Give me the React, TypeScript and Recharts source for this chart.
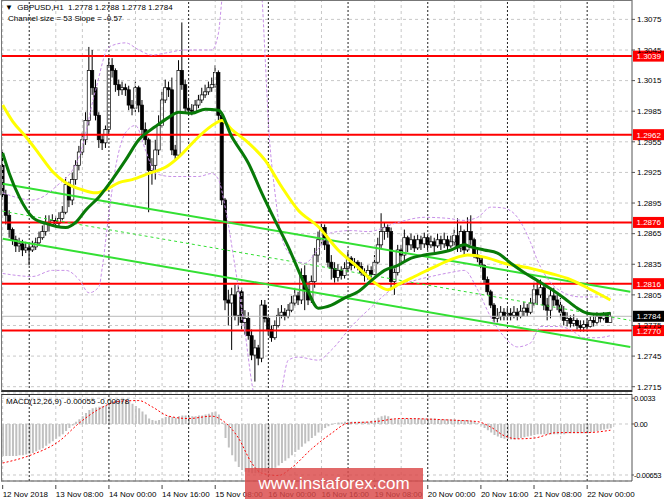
import React from 'react';
import { ComposedChart, Bar, Line, XAxis, YAxis, CartesianGrid, ReferenceLine } from 'recharts';

// ---------- DATA ----------
const firstOpen = 1.2932;
const closes = [
  1.2903, 1.2883, 1.2869, 1.2859, 1.2853, 1.2855, 1.2849, 1.2851, 1.2849, 1.2852,
  1.2856, 1.2861, 1.2867, 1.2876, 1.2874, 1.2878, 1.2875, 1.2880, 1.2886, 1.2913,
  1.2898, 1.2918, 1.2932, 1.2945, 1.2957, 1.2976, 1.3025, 1.3008, 1.2981, 1.2957,
  1.2954, 1.2967, 1.3030, 1.3025, 1.3011, 1.3006, 1.3008, 1.3006, 1.2991, 1.2988,
  1.3008, 1.2991, 1.2967, 1.2957, 1.2927, 1.2932, 1.2947, 1.2971, 1.2996, 1.3008,
  1.3006, 1.2947, 1.2942, 1.3025, 1.3011, 1.2988, 1.2986, 1.2985, 1.2991, 1.2996,
  1.3001, 1.3004, 1.3008, 1.3011, 1.3023, 1.2981, 1.2898, 1.2800, 1.2797, 1.2805,
  1.2785, 1.2808, 1.2778, 1.2782, 1.2765, 1.2746, 1.2753, 1.2743, 1.2795, 1.2782,
  1.2771, 1.2763, 1.2775, 1.2785, 1.2788, 1.2784, 1.2790, 1.2797, 1.2804, 1.2800,
  1.2824, 1.2810, 1.2800, 1.2818, 1.2844, 1.2859, 1.2871, 1.2854, 1.2837, 1.2831,
  1.2822, 1.2829, 1.2824, 1.2831, 1.2841, 1.2834, 1.2837, 1.2833, 1.2827, 1.2824,
  1.2829, 1.2825, 1.2837, 1.2854, 1.2867, 1.2871, 1.2867, 1.2818, 1.2827, 1.2849,
  1.2844, 1.2861, 1.2854, 1.2859, 1.2851, 1.2859, 1.2855, 1.2861, 1.2854, 1.2857,
  1.2853, 1.2859, 1.2855, 1.2859, 1.2853, 1.2857, 1.2863, 1.2851, 1.2867, 1.2849,
  1.2867, 1.2859, 1.2844, 1.2841, 1.2834, 1.2820, 1.2808, 1.2795, 1.2782, 1.2784,
  1.2788, 1.2784, 1.2787, 1.2785, 1.2788, 1.2784, 1.2789, 1.2792, 1.2788, 1.2797,
  1.2810, 1.2805, 1.2812, 1.2795, 1.2790, 1.2804, 1.2800, 1.2795, 1.2788, 1.2780,
  1.2782, 1.2777, 1.2780, 1.2775, 1.2773, 1.2776, 1.2774, 1.2780, 1.2778, 1.2784,
  1.2782, 1.2785, 1.2778, 1.2784,
];
const highs = [
  1.2947, 1.2908, 1.2888, 1.2871, 1.2863, 1.2861, 1.2859, 1.2857, 1.2855, 1.2858,
  1.2861, 1.2867, 1.2873, 1.2883, 1.2883, 1.2884, 1.2882, 1.2886, 1.2892, 1.2920,
  1.2916, 1.2925, 1.2937, 1.2951, 1.2964, 1.2984, 1.3048, 1.3045, 1.3016, 1.2984,
  1.2962, 1.2971, 1.3037, 1.3037, 1.3027, 1.3016, 1.3014, 1.3012, 1.3010, 1.2996,
  1.3014, 1.3010, 1.2996, 1.2974, 1.2959, 1.2939, 1.2957, 1.2981, 1.3004, 1.3016,
  1.3014, 1.3018, 1.2952, 1.3035, 1.3072, 1.3016, 1.2996, 1.2992, 1.2996, 1.3001,
  1.3008, 1.3011, 1.3014, 1.3018, 1.3030, 1.3025, 1.2984, 1.2900, 1.2810, 1.2812,
  1.2815, 1.2814, 1.2812, 1.2790, 1.2788, 1.2771, 1.2761, 1.2756, 1.2800, 1.2800,
  1.2785, 1.2775, 1.2780, 1.2792, 1.2795, 1.2792, 1.2796, 1.2804, 1.2810, 1.2808,
  1.2831, 1.2834, 1.2818, 1.2824, 1.2851, 1.2867, 1.2876, 1.2874, 1.2859, 1.2844,
  1.2837, 1.2835, 1.2833, 1.2837, 1.2847, 1.2843, 1.2841, 1.2839, 1.2837, 1.2831,
  1.2834, 1.2833, 1.2844, 1.2861, 1.2885, 1.2876, 1.2874, 1.2871, 1.2831, 1.2854,
  1.2854, 1.2869, 1.2863, 1.2865, 1.2863, 1.2864, 1.2863, 1.2866, 1.2863, 1.2863,
  1.2861, 1.2865, 1.2863, 1.2866, 1.2863, 1.2863, 1.2869, 1.2880, 1.2873, 1.2869,
  1.2881, 1.2883, 1.2861, 1.2849, 1.2844, 1.2835, 1.2823, 1.2810, 1.2797, 1.2792,
  1.2794, 1.2792, 1.2792, 1.2792, 1.2794, 1.2792, 1.2795, 1.2798, 1.2796, 1.2802,
  1.2816, 1.2820, 1.2820, 1.2814, 1.2802, 1.2810, 1.2812, 1.2805, 1.2802, 1.2794,
  1.2788, 1.2785, 1.2786, 1.2782, 1.2780, 1.2780, 1.2782, 1.2784, 1.2785, 1.2788,
  1.2787, 1.2788, 1.2787, 1.2788,
];
const lows = [
  1.2898, 1.2874, 1.2861, 1.2854, 1.2847, 1.2847, 1.2843, 1.2846, 1.2834, 1.2847,
  1.2849, 1.2853, 1.2859, 1.2863, 1.2867, 1.2872, 1.2871, 1.2871, 1.2878, 1.2884,
  1.2891, 1.2893, 1.2913, 1.2927, 1.2942, 1.2952, 1.2971, 1.3001, 1.2976, 1.2949,
  1.2947, 1.2949, 1.2962, 1.3018, 1.3004, 1.3000, 1.3001, 1.3000, 1.2986, 1.2981,
  1.2984, 1.2984, 1.2962, 1.2952, 1.2886, 1.2913, 1.2918, 1.2942, 1.2969, 1.2993,
  1.2999, 1.2942, 1.2937, 1.2939, 1.3006, 1.2984, 1.2981, 1.2981, 1.2983, 1.2988,
  1.2993, 1.2998, 1.3001, 1.3004, 1.3008, 1.2976, 1.2893, 1.2790, 1.2775, 1.2751,
  1.2780, 1.2775, 1.2771, 1.2766, 1.2761, 1.2741, 1.2720, 1.2736, 1.2739, 1.2778,
  1.2766, 1.2759, 1.2761, 1.2773, 1.2782, 1.2780, 1.2782, 1.2788, 1.2794, 1.2795,
  1.2796, 1.2790, 1.2795, 1.2797, 1.2812, 1.2837, 1.2854, 1.2849, 1.2832, 1.2820,
  1.2817, 1.2818, 1.2820, 1.2821, 1.2827, 1.2829, 1.2831, 1.2829, 1.2824, 1.2818,
  1.2820, 1.2822, 1.2822, 1.2835, 1.2851, 1.2859, 1.2861, 1.2810, 1.2805, 1.2824,
  1.2837, 1.2837, 1.2847, 1.2849, 1.2847, 1.2849, 1.2849, 1.2851, 1.2849, 1.2851,
  1.2847, 1.2851, 1.2849, 1.2851, 1.2849, 1.2851, 1.2853, 1.2847, 1.2847, 1.2843,
  1.2847, 1.2854, 1.2841, 1.2837, 1.2831, 1.2816, 1.2805, 1.2792, 1.2778, 1.2778,
  1.2780, 1.2780, 1.2780, 1.2780, 1.2782, 1.2780, 1.2782, 1.2784, 1.2784, 1.2786,
  1.2794, 1.2795, 1.2802, 1.2790, 1.2780, 1.2782, 1.2794, 1.2790, 1.2782, 1.2775,
  1.2774, 1.2773, 1.2774, 1.2771, 1.2769, 1.2769, 1.2771, 1.2773, 1.2774, 1.2776,
  1.2778, 1.2780, 1.2778, 1.2778,
];
const futureSlots = 6;

const greenMaPts: [number, number][] = [
  [0, 1.2944], [2, 1.2924], [5, 1.2901], [9, 1.2881], [13, 1.2875], [19, 1.2871], [22, 1.2876],
  [25, 1.2888], [29, 1.2901], [33, 1.2918], [37, 1.2937], [41, 1.2957], [46, 1.2970], [50, 1.2979],
  [53, 1.2984], [57, 1.2983], [61, 1.2987], [65, 1.2986], [69, 1.2960], [74, 1.2934], [78, 1.2905],
  [82, 1.2878], [86, 1.2852], [90, 1.2822], [92, 1.2808], [95, 1.2792], [99, 1.2795], [103, 1.2802],
  [107, 1.2808], [111, 1.2819], [115, 1.2829], [119, 1.2834], [123, 1.2841], [127, 1.2844],
  [131, 1.2846], [135, 1.2849], [139, 1.2854], [141, 1.2852], [145, 1.2849], [149, 1.2846],
  [153, 1.2836], [157, 1.2827], [161, 1.2819], [165, 1.2811], [169, 1.2802], [173, 1.2792],
  [176, 1.2787], [179, 1.2786], [183, 1.2787],
];
const yellowMaPts: [number, number][] = [
  [0, 1.2991], [3, 1.2975], [7, 1.2960], [11, 1.2943], [15, 1.2926], [19, 1.2915], [24, 1.2908],
  [28, 1.2905], [31, 1.2908], [35, 1.2915], [39, 1.2918], [44, 1.2924], [49, 1.2930], [53, 1.2940],
  [56, 1.2950], [59, 1.2960], [64, 1.2973], [66, 1.2976], [69, 1.2967], [74, 1.2954], [79, 1.2937],
  [84, 1.2911], [89, 1.2888], [95, 1.2872], [101, 1.2849], [107, 1.2832], [112, 1.2817],
  [116, 1.2810], [119, 1.2815], [124, 1.2823], [131, 1.2834], [137, 1.2842], [140, 1.2844],
  [145, 1.2842], [151, 1.2836], [159, 1.2831], [165, 1.2826], [171, 1.2820], [176, 1.2812],
  [183, 1.2800],
];
const upperBandPts: [number, number][] = [
  [0, 1.2905], [9, 1.2898], [16, 1.2911], [23, 1.2940], [28, 1.3006], [32, 1.3048], [37, 1.3052],
  [41, 1.3045], [45, 1.3040], [49, 1.3042], [55, 1.3045], [63, 1.3045], [65, 1.3062], [66, 1.3094],
  [68, 1.3140], [72, 1.3160], [76, 1.3140], [78, 1.3100], [79, 1.3040], [80, 1.2975], [82, 1.2905],
  [84, 1.2862], [87, 1.2843], [91, 1.2836], [95, 1.2850], [99, 1.2866], [105, 1.2868],
  [110, 1.2867], [119, 1.2876], [127, 1.2881], [134, 1.2880], [139, 1.2878], [143, 1.2881],
  [147, 1.2891], [151, 1.2890], [155, 1.2881], [159, 1.2856], [161, 1.2839], [165, 1.2817],
  [169, 1.2807], [174, 1.2803], [179, 1.2803], [183, 1.2803],
];
const lowerBandPts: [number, number][] = [
  [0, 1.2826], [9, 1.2823], [15, 1.2829], [19, 1.2829], [23, 1.2820], [26, 1.2807], [29, 1.2813],
  [30, 1.2832], [32, 1.2885], [34, 1.2930], [37, 1.2964], [40, 1.2971], [43, 1.2947], [46, 1.2924],
  [51, 1.2921], [59, 1.2921], [63, 1.2924], [65, 1.2918], [67, 1.2891], [70, 1.2832], [73, 1.2768],
  [75, 1.2719], [78, 1.2680], [82, 1.2680], [84, 1.2712], [86, 1.2741], [89, 1.2744], [95, 1.2741],
  [99, 1.2751], [105, 1.2774], [111, 1.2793], [117, 1.2810], [122, 1.2817], [129, 1.2823],
  [135, 1.2827], [139, 1.2829], [143, 1.2810], [147, 1.2783], [151, 1.2764], [155, 1.2754],
  [159, 1.2758], [162, 1.2774], [167, 1.2774], [171, 1.2771], [175, 1.2763], [179, 1.2763],
  [183, 1.2765],
];
const channelUpper: [number, number][] = [[0, 1.2914], [189, 1.2808]];
const channelMid: [number, number][] = [[0, 1.2887], [189, 1.2780]];
const channelLower: [number, number][] = [[0, 1.2860], [189, 1.2754]];

const levels = [1.3039, 1.2962, 1.2876, 1.2816, 1.2770];
const lastPrice = 1.2784;
const priceTicks = [1.3075, 1.3045, 1.3015, 1.2985, 1.2955, 1.2925, 1.2895, 1.2865, 1.2835, 1.2805, 1.2775, 1.2745, 1.2715];
const priceDomain: [number, number] = [1.27098, 1.3094];

const macdHist = [
  -0.0041, -0.0041, -0.0041, -0.0041, -0.0041, -0.0040, -0.0040, -0.0039, -0.0038, -0.0037,
  -0.0035, -0.0033, -0.0031, -0.0028, -0.0025, -0.0022, -0.0019, -0.0016, -0.0013, -0.0009,
  -0.0005, -0.0002, 0.0003, 0.0006, 0.0010, 0.0014, 0.0018, 0.0020, 0.0021, 0.0022,
  0.0023, 0.0024, 0.0027, 0.0029, 0.0030, 0.0030, 0.0030, 0.0030, 0.0029, 0.0026,
  0.0023, 0.0020, 0.0016, 0.0012, 0.0007, 0.0005, 0.0004, 0.0005, 0.0007, 0.0009,
  0.0010, 0.0009, 0.0008, 0.0010, 0.0011, 0.0011, 0.0010, 0.0010, 0.0010, 0.0011,
  0.0011, 0.0012, 0.0013, 0.0015, 0.0016, 0.0012, 0.0002, -0.0018, -0.0030, -0.0040,
  -0.0048, -0.0055, -0.0059, -0.0061, -0.0062, -0.0063, -0.0063, -0.0063, -0.0062, -0.0061,
  -0.0060, -0.0058, -0.0056, -0.0053, -0.0050, -0.0047, -0.0044, -0.0040, -0.0036, -0.0033,
  -0.0029, -0.0025, -0.0022, -0.0018, -0.0015, -0.0011, -0.0008, -0.0005, -0.0003, -0.0001,
  0.0001, 0.0002, 0.0002, 0.0003, 0.0003, 0.0003, 0.0003, 0.0003, 0.0003, 0.0003,
  0.0003, 0.0004, 0.0005, 0.0008, 0.0010, 0.0011, 0.0010, 0.0007, 0.0006, 0.0006,
  0.0006, 0.0007, 0.0007, 0.0007, 0.0007, 0.0007, 0.0007, 0.0007, 0.0007, 0.0007,
  0.0007, 0.0006, 0.0006, 0.0006, 0.0006, 0.0006, 0.0006, 0.0005, 0.0005, 0.0005,
  0.0005, 0.0004, 0.0003, 0.0001, -0.0002, -0.0005, -0.0008, -0.0011, -0.0014, -0.0016,
  -0.0018, -0.0019, -0.0019, -0.0020, -0.0020, -0.0019, -0.0018, -0.0017, -0.0016, -0.0015,
  -0.0014, -0.0013, -0.0013, -0.0013, -0.0013, -0.0013, -0.0013, -0.0013, -0.0013, -0.0013,
  -0.0012, -0.0012, -0.0012, -0.0012, -0.0012, -0.0012, -0.0012, -0.0011, -0.0010, -0.0009,
  -0.0008, -0.0007, -0.0006, -0.00055,
];
const signalPts: [number, number][] = [
  [0, -0.0050], [9, -0.0039], [17, -0.0022], [23, 0.0001], [29, 0.0019], [35, 0.0029], [41, 0.0030],
  [45, 0.0022], [50, 0.0010], [56, 0.0007], [63, 0.0010], [66, 0.0005], [71, -0.0018], [75, -0.0050],
  [78, -0.0063], [83, -0.0066], [87, -0.0056], [93, -0.0032], [99, -0.0012], [104, 0.0001],
  [112, 0.0003], [120, 0.0007], [135, 0.0005], [143, 0.0003], [147, -0.0004], [151, -0.0015],
  [155, -0.0019], [160, -0.0018], [167, -0.0011], [176, -0.0011], [183, -0.0008],
];
const macdTicks = [0.0033, 0, -0.00653];
const macdTickText = ['0.0033', '0.00', '-0.00653'];
const macdDomain: [number, number] = [-0.0073, 0.00384];

const timeLabels: [number, string][] = [
  [0, '12 Nov 2018'], [16, '13 Nov 08:00'], [32, '14 Nov 00:00'], [48, '14 Nov 16:00'],
  [64, '15 Nov 08:00'], [80, '16 Nov 00:00'], [96, '16 Nov 16:00'], [112, '19 Nov 08:00'],
  [128, '20 Nov 00:00'], [144, '20 Nov 16:00'], [160, '21 Nov 08:00'], [176, '22 Nov 00:00'],
];
const gridBars = [0, 16, 24, 40, 48, 64, 72, 88, 96, 112, 120, 136, 144, 160, 168, 184];
const daySeparators = [8, 32, 56, 80, 104, 128, 152, 176];

// ---------- TABLE ----------
const rows: any[] = [];
for (let i = 0; i < closes.length + futureSlots; i++) {
  const row: any = { i };
  if (i < closes.length) {
    const open = i === 0 ? firstOpen : closes[i - 1];
    row.open = open;
    row.close = closes[i];
    row.range = [Math.min(lows[i], open, closes[i]), Math.max(highs[i], open, closes[i])];
    row.macd = macdHist[i];
  }
  rows.push(row);
}
const put = (pts: [number, number][], key: string) => pts.forEach(([i, v]) => { rows[i][key] = v; });
put(greenMaPts, 'green');
put(yellowMaPts, 'yellow');
put(upperBandPts, 'upper');
put(lowerBandPts, 'lower');
put(signalPts, 'signal');
const labelMap = new Map(timeLabels);

// ---------- STYLE ----------
const FONT = '"Liberation Sans", Arial, sans-serif';
const FS = 8;
const W = 665;

const Candle = (props: any) => {
  const { x, y, width, height, payload } = props;
  if (!payload || payload.close == null) return null;
  const [lo, hi] = payload.range;
  const top = Math.min(y, y + height);
  const h = Math.abs(height);
  const span = hi - lo;
  const toY = (v: number) => (span === 0 ? top : top + ((hi - v) / span) * h);
  const cx = x + width / 2;
  const yo = toY(payload.open);
  const yc = toY(payload.close);
  const bt = Math.min(yo, yc);
  const bh = Math.max(Math.abs(yc - yo), 0.8);
  const bull = payload.close >= payload.open;
  return (
    <g>
      <line x1={cx} x2={cx} y1={top} y2={top + h} stroke="#000" strokeWidth={1} />
      <rect x={cx - 1.6} y={bt} width={3.2} height={bh} fill={bull ? '#ffffff' : '#000000'} stroke="#000" strokeWidth={0.7} />
    </g>
  );
};

const tag = (text: string, bg: string) => (p: any) => {
  const vb = p.viewBox || {};
  const left = (vb.x || 0) + (vb.width || 0) + 1;
  const yy = vb.y || 0;
  return (
    <g>
      <rect x={left} y={yy - 5.5} width={31} height={11} fill={bg} />
      <text x={left + 3.5} y={yy + 3} fontSize={FS} fontFamily={FONT} fill="#fff">{text}</text>
    </g>
  );
};

const TimeTick = (props: any) => {
  const { x, y, payload } = props;
  const lab = labelMap.get(payload.value);
  if (!lab) return null;
  return (
    <g>
      <line x1={x} x2={x} y1={y - 4} y2={y} stroke="#444" />
      <text x={x} y={y + 8} fontSize={FS} fontFamily={FONT} fill="#000" textAnchor="start">{lab}</text>
    </g>
  );
};

const vLines = () => [
  ...gridBars.map((b) => <ReferenceLine key={'g' + b} x={b} stroke="#c8c8c8" strokeDasharray="3 3" />),
  ...daySeparators.map((b) => <ReferenceLine key={'d' + b} x={b} stroke="#222" strokeDasharray="2 2" />),
];

export default function App() {
  return (
    <div style={{ position: 'absolute', left: 0, top: 0, width: W, height: 499, background: '#fff', overflow: 'hidden', fontFamily: FONT }}>
      <ComposedChart width={W} height={393} data={rows} margin={{ top: 0, right: 0, left: 1, bottom: 1 }}>
        <CartesianGrid vertical={false} stroke="#c8c8c8" strokeDasharray="3 3" />
        <XAxis dataKey="i" type="category" hide />
        <YAxis
          orientation="right"
          width={33}
          domain={priceDomain}
          allowDataOverflow
          ticks={priceTicks}
          interval={0}
          tickFormatter={(v: number) => v.toFixed(4)}
          tick={{ fontSize: FS, fill: '#000', fontFamily: FONT }}
          tickSize={3}
          tickMargin={2}
          axisLine={{ stroke: '#555' }}
          tickLine={{ stroke: '#555' }}
        />
        {vLines()}
        <ReferenceLine y={lastPrice} stroke="#b8b8b8" label={tag(lastPrice.toFixed(4), '#000')} />
        {levels.map((lv) => (
          <ReferenceLine key={lv} y={lv} stroke="#ff0000" strokeWidth={2} label={tag(lv.toFixed(4), '#ff0000')} />
        ))}
        <ReferenceLine segment={[{ x: channelUpper[0][0], y: channelUpper[0][1] }, { x: channelUpper[1][0], y: channelUpper[1][1] }]} stroke="#33e033" strokeWidth={2} />
        <ReferenceLine segment={[{ x: channelMid[0][0], y: channelMid[0][1] }, { x: channelMid[1][0], y: channelMid[1][1] }]} stroke="#33e033" strokeWidth={1} strokeDasharray="3 3" />
        <ReferenceLine segment={[{ x: channelLower[0][0], y: channelLower[0][1] }, { x: channelLower[1][0], y: channelLower[1][1] }]} stroke="#33e033" strokeWidth={2} />
        <Line dataKey="upper" type="monotone" stroke="#c890e8" strokeWidth={1} strokeDasharray="3 2" dot={false} connectNulls isAnimationActive={false} />
        <Line dataKey="lower" type="monotone" stroke="#c890e8" strokeWidth={1} strokeDasharray="3 2" dot={false} connectNulls isAnimationActive={false} />
        <Line dataKey="yellow" type="monotone" stroke="#ffff00" strokeWidth={3} dot={false} connectNulls isAnimationActive={false} />
        <Line dataKey="green" type="monotone" stroke="#087a08" strokeWidth={3} dot={false} connectNulls isAnimationActive={false} />
        <Bar dataKey="range" barSize={3} shape={Candle} isAnimationActive={false} />
      </ComposedChart>

      <div style={{ position: 'absolute', left: 1, top: 0, width: 631, height: 392, boxSizing: 'border-box', borderLeft: '1px solid #777', borderTop: '1px solid #777', borderBottom: '2px solid #333', pointerEvents: 'none' }} />

      <div style={{ position: 'absolute', left: 0, top: 393 }}>
        <ComposedChart width={W} height={106} data={rows} margin={{ top: 1, right: 0, left: 1, bottom: 0 }}>
          <CartesianGrid vertical={false} stroke="#c8c8c8" strokeDasharray="3 3" />
          <XAxis
            dataKey="i"
            type="category"
            height={18}
            interval={0}
            tick={<TimeTick />}
            tickLine={false}
            axisLine={{ stroke: '#555' }}
          />
          <YAxis
            orientation="right"
            width={33}
            domain={macdDomain}
            allowDataOverflow
            ticks={macdTicks}
            interval={0}
            tickFormatter={(v: number) => macdTickText[macdTicks.indexOf(v)] ?? ''}
            tick={{ fontSize: 7.5, fill: '#000', fontFamily: FONT, letterSpacing: -0.3 }}
            tickSize={2}
            tickMargin={0}
            axisLine={{ stroke: '#555' }}
            tickLine={{ stroke: '#555' }}
          />
          {vLines()}
          <Bar dataKey="macd" fill="#c0c0c0" barSize={2} isAnimationActive={false} />
          <Line dataKey="signal" type="monotone" stroke="#ff0000" strokeWidth={1} strokeDasharray="2 2" dot={false} connectNulls isAnimationActive={false} />
        </ComposedChart>
      </div>
      <div style={{ position: 'absolute', left: 1, top: 394, width: 631, height: 87, boxSizing: 'border-box', borderLeft: '1px solid #777', borderTop: '1px solid #333', pointerEvents: 'none' }} />

      <div style={{ position: 'absolute', left: 5, top: 2, fontSize: FS, color: '#000', whiteSpace: 'pre', lineHeight: '11px' }}>
        {'▼  GBPUSD,H1  1.2778 1.2788 1.2778 1.2784'}
      </div>
      <div style={{ position: 'absolute', left: 8, top: 13, fontSize: FS, color: '#000', whiteSpace: 'pre', lineHeight: '11px' }}>
        {'Channel size = 53 Slope = -0.57'}
      </div>
      <div style={{ position: 'absolute', left: 6, top: 396, fontSize: FS, color: '#000', whiteSpace: 'pre', lineHeight: '11px' }}>
        {'MACD(12,26,9) -0.00055 -0.00078'}
      </div>

      <div style={{ position: 'absolute', left: 245, top: 468, width: 178, height: 31, background: 'rgba(218, 72, 72, 0.82)', color: '#fff', fontSize: 17, lineHeight: '31px', textAlign: 'center', fontFamily: FONT }}>
        www.instaforex.com
      </div>
    </div>
  );
}
